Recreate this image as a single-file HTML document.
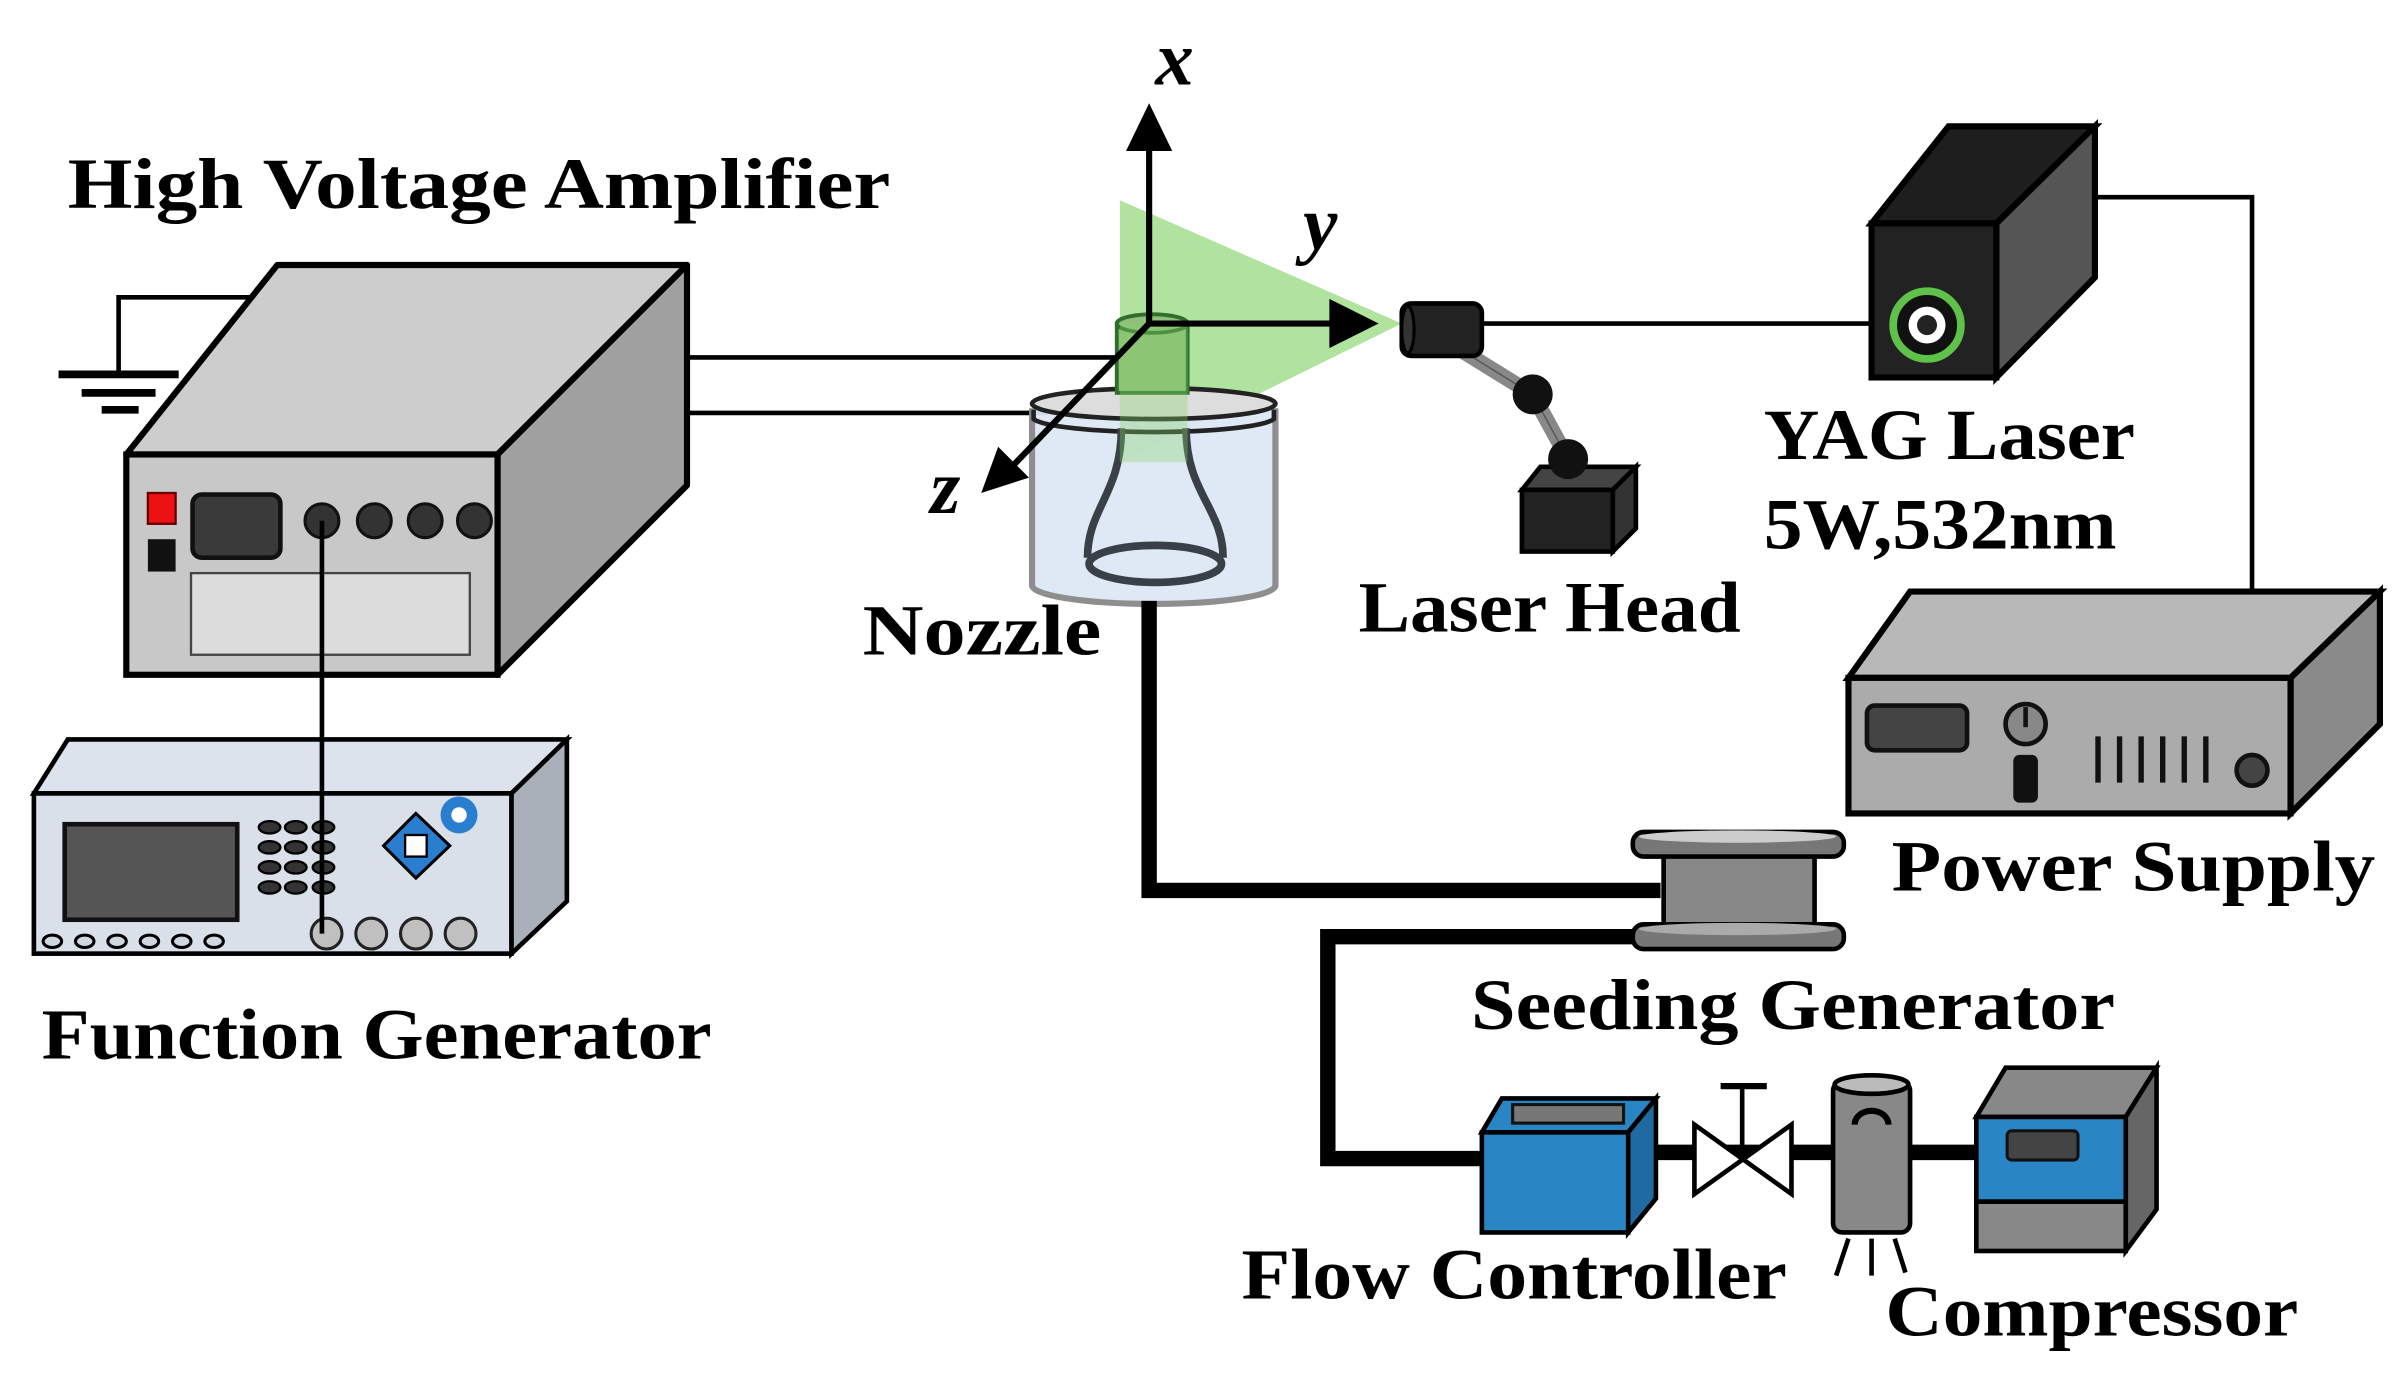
<!DOCTYPE html>
<html><head><meta charset="utf-8"><style>
html,body{margin:0;padding:0;background:#fff;}
svg{display:block;}
text{font-family:"Liberation Serif",serif;font-weight:bold;font-size:47px;fill:#000;}
.it{font-style:italic;font-size:50px;}
</style></head><body>
<svg width="2403" height="1385" viewBox="0 0 1560 899" preserveAspectRatio="none" xmlns="http://www.w3.org/2000/svg">
<rect width="1560" height="899" fill="#fff"/>

<!-- ground -->
<polyline points="182,193 77,193 77,243" fill="none" stroke="#000" stroke-width="3"/>
<line x1="38" y1="243" x2="116" y2="243" stroke="#000" stroke-width="5"/>
<line x1="53" y1="255" x2="101" y2="255" stroke="#000" stroke-width="5"/>
<line x1="66" y1="266" x2="90" y2="266" stroke="#000" stroke-width="5"/>

<!-- wires amp to nozzle -->
<line x1="446" y1="232" x2="730" y2="232" stroke="#000" stroke-width="3"/>
<line x1="446" y1="268" x2="680" y2="268" stroke="#000" stroke-width="3"/>

<!-- amplifier -->
<polygon points="82,295 180,172 446,172 323,295" fill="#cdcdcd" stroke="#000" stroke-width="4" stroke-linejoin="round"/>
<polygon points="323,295 446,172 446,315 323,438" fill="#a0a0a0" stroke="#000" stroke-width="4" stroke-linejoin="round"/>
<rect x="82" y="295" width="241" height="143" fill="#c8c8c8" stroke="#000" stroke-width="4"/>
<rect x="96" y="320" width="18" height="20" fill="#e11" stroke="#600" stroke-width="1.5"/>
<rect x="96" y="350" width="18" height="21" fill="#111"/>
<rect x="125" y="321" width="57" height="41" rx="6" fill="#3a3a3a" stroke="#111" stroke-width="3"/>
<circle cx="209" cy="338" r="11" fill="#333" stroke="#111" stroke-width="2"/>
<circle cx="243" cy="338" r="11" fill="#333" stroke="#111" stroke-width="2"/>
<circle cx="276" cy="338" r="11" fill="#333" stroke="#111" stroke-width="2"/>
<circle cx="308" cy="338" r="11" fill="#333" stroke="#111" stroke-width="2"/>
<rect x="124" y="372" width="181" height="53" fill="#dcdcdc" stroke="#444" stroke-width="1.5"/>

<!-- function generator -->
<polygon points="22,515 44,480 368,480 332,515" fill="#dde3ec" stroke="#000" stroke-width="3"/>
<polygon points="332,515 368,480 368,585 332,619" fill="#a9b0ba" stroke="#000" stroke-width="3"/>
<rect x="22" y="515" width="310" height="104" fill="#d9e0ea" stroke="#000" stroke-width="3"/>
<rect x="42" y="535" width="112" height="62" fill="#555" stroke="#111" stroke-width="3"/>
<g fill="#333" stroke="#000" stroke-width="1.5">
<ellipse cx="175" cy="537" rx="7" ry="4"/><ellipse cx="192" cy="537" rx="7" ry="4"/><ellipse cx="210" cy="537" rx="7" ry="4"/>
<ellipse cx="175" cy="550" rx="7" ry="4"/><ellipse cx="192" cy="550" rx="7" ry="4"/><ellipse cx="210" cy="550" rx="7" ry="4"/>
<ellipse cx="175" cy="563" rx="7" ry="4"/><ellipse cx="192" cy="563" rx="7" ry="4"/><ellipse cx="210" cy="563" rx="7" ry="4"/>
<ellipse cx="175" cy="576" rx="7" ry="4"/><ellipse cx="192" cy="576" rx="7" ry="4"/><ellipse cx="210" cy="576" rx="7" ry="4"/>
</g>
<g fill="#d0d6e0" stroke="#000" stroke-width="2">
<ellipse cx="34" cy="611" rx="6" ry="4"/><ellipse cx="55" cy="611" rx="6" ry="4"/><ellipse cx="76" cy="611" rx="6" ry="4"/>
<ellipse cx="97" cy="611" rx="6" ry="4"/><ellipse cx="118" cy="611" rx="6" ry="4"/><ellipse cx="139" cy="611" rx="6" ry="4"/>
</g>
<g fill="#c0c0c0" stroke="#222" stroke-width="2">
<ellipse cx="212" cy="606" rx="10" ry="10"/><ellipse cx="241" cy="606" rx="10" ry="10"/><ellipse cx="270" cy="606" rx="10" ry="10"/><ellipse cx="299" cy="606" rx="10" ry="10"/>
</g>
<polygon points="270,528 292,549 270,570 249,549" fill="#2a7ed0" stroke="#000" stroke-width="2"/>
<rect x="263" y="542" width="14" height="14" fill="#fff" stroke="#000" stroke-width="1.5"/>
<circle cx="298" cy="529" r="12" fill="#2a7ed0"/><circle cx="298" cy="529" r="5" fill="#fff"/>
<line x1="209" y1="338" x2="209" y2="606" stroke="#000" stroke-width="3"/>

<!-- green sheet -->
<polygon points="727,130 727,300 910,210" fill="#86d46a" opacity="0.65"/>

<!-- nozzle container -->
<path d="M670,265 L670,380 A79,12 0 0 0 828,380 L828,265" fill="#dde8f5" stroke="#888" stroke-width="4" opacity="0.95"/>
<ellipse cx="749" cy="262" rx="79" ry="10" fill="#ddd" stroke="#222" stroke-width="3"/>
<path d="M671,266 L671,272 A79,10 0 0 0 827,272 L827,266" fill="none" stroke="#222" stroke-width="3"/>
<path d="M728,278 C728,320 706,330 706,362 M770,278 C770,320 794,330 794,362" fill="none" stroke="#3a4048" stroke-width="5"/>
<ellipse cx="750" cy="366" rx="43" ry="12" fill="none" stroke="#3a4048" stroke-width="5"/>
<rect x="725" y="210" width="46" height="45" fill="#8fbf7a" stroke="#2e6e2e" stroke-width="2.5"/>
<ellipse cx="748" cy="210" rx="23" ry="6" fill="#8fbf7a" stroke="#2e6e2e" stroke-width="2.5"/>
<polygon points="727,210 771,210 771,300 727,300" fill="#86d46a" opacity="0.35"/>

<!-- axes -->
<line x1="746" y1="210" x2="746" y2="95" stroke="#000" stroke-width="4"/>
<polygon points="731,98 761,98 746,67" fill="#000"/>
<line x1="746" y1="210" x2="868" y2="210" stroke="#000" stroke-width="4"/>
<polygon points="863,194 863,226 895,210" fill="#000"/>
<line x1="746" y1="210" x2="655" y2="305" stroke="#000" stroke-width="4"/>
<polygon points="637,320 648,290 668,310" fill="#000"/>
<text x="750" y="55" class="it">x</text>
<text x="846" y="162" class="it">y</text>
<text x="604" y="333" class="it">z</text>

<!-- nozzle tubes -->
<polyline points="746,390 746,578 1078,578" fill="none" stroke="#000" stroke-width="10"/>
<polyline points="1070,608 862,608 862,752 965,752" fill="none" stroke="#000" stroke-width="10"/>

<!-- laser head -->
<line x1="960" y1="210" x2="1215" y2="210" stroke="#000" stroke-width="3"/>
<polyline points="940,222 995,256 1018,298" fill="none" stroke="#888" stroke-width="10"/>
<polyline points="940,222 995,256 1018,298" fill="none" stroke="#111" stroke-width="1" opacity="0.4"/>
<rect x="910" y="197" width="52" height="34" rx="6" fill="#222" stroke="#000" stroke-width="3"/>
<ellipse cx="914" cy="214" rx="4" ry="15" fill="#333" stroke="#000" stroke-width="2"/>
<circle cx="995" cy="256" r="13" fill="#111"/>
<polygon points="988,318 1000,303 1062,303 1047,318" fill="#444" stroke="#000" stroke-width="3"/>
<polygon points="1047,318 1062,303 1062,343 1047,358" fill="#333" stroke="#000" stroke-width="3"/>
<rect x="988" y="318" width="59" height="40" fill="#222" stroke="#000" stroke-width="3"/>
<circle cx="1018" cy="298" r="13" fill="#111"/>

<!-- YAG laser -->
<polyline points="1360,128 1462,128 1462,500" fill="none" stroke="#000" stroke-width="3"/>
<polygon points="1215,145 1265,82 1360,82 1296,145" fill="#1e1e1e" stroke="#000" stroke-width="4"/>
<polygon points="1296,145 1360,82 1360,180 1296,245" fill="#555" stroke="#000" stroke-width="4"/>
<rect x="1215" y="145" width="81" height="100" fill="#222" stroke="#000" stroke-width="4"/>
<circle cx="1251" cy="211" r="22" fill="#111" stroke="#5ec24a" stroke-width="5"/>
<circle cx="1251" cy="211" r="12" fill="#fff"/>
<circle cx="1251" cy="211" r="6.5" fill="#222"/>

<!-- power supply -->
<polygon points="1200,440 1240,384 1545,384 1487,440" fill="#b8b8b8" stroke="#000" stroke-width="4"/>
<polygon points="1487,440 1545,384 1545,470 1487,528" fill="#8a8a8a" stroke="#000" stroke-width="4"/>
<rect x="1200" y="440" width="287" height="88" fill="#ababab" stroke="#000" stroke-width="4"/>
<rect x="1212" y="458" width="65" height="29" rx="5" fill="#444" stroke="#111" stroke-width="3"/>
<circle cx="1315" cy="470" r="13" fill="#888" stroke="#111" stroke-width="3"/>
<line x1="1315" y1="459" x2="1315" y2="472" stroke="#111" stroke-width="3"/>
<rect x="1307" y="490" width="16" height="31" rx="4" fill="#111"/>
<g stroke="#111" stroke-width="3.5">
<line x1="1362" y1="478" x2="1362" y2="508"/><line x1="1376" y1="478" x2="1376" y2="508"/><line x1="1390" y1="478" x2="1390" y2="508"/>
<line x1="1404" y1="478" x2="1404" y2="508"/><line x1="1418" y1="478" x2="1418" y2="508"/><line x1="1432" y1="478" x2="1432" y2="508"/>
</g>
<circle cx="1462" cy="500" r="10" fill="#444" stroke="#111" stroke-width="3"/>

<!-- seeding generator -->
<rect x="1080" y="552" width="98" height="52" fill="#888" stroke="#000" stroke-width="3"/>
<rect x="1060" y="540" width="137" height="16" rx="7" fill="#777" stroke="#000" stroke-width="3"/>
<ellipse cx="1128" cy="543" rx="64" ry="4" fill="#ccc"/>
<rect x="1060" y="600" width="137" height="16" rx="7" fill="#777" stroke="#000" stroke-width="3"/>
<ellipse cx="1128" cy="603" rx="64" ry="4" fill="#aaa"/>

<!-- flow line -->
<line x1="1070" y1="748" x2="1290" y2="748" stroke="#000" stroke-width="10"/>

<!-- flow controller -->
<polygon points="962,735 975,713 1075,713 1057,735" fill="#2a85c4" stroke="#000" stroke-width="3"/>
<rect x="982" y="717" width="72" height="12" fill="#777" stroke="#111" stroke-width="2"/>
<polygon points="1057,735 1075,713 1075,778 1057,800" fill="#1f6aa0" stroke="#000" stroke-width="3"/>
<rect x="962" y="735" width="95" height="65" fill="#2a85c4" stroke="#000" stroke-width="3"/>

<!-- valve -->
<polygon points="1100,730 1100,775 1163,730 1163,775" fill="#fff" stroke="#000" stroke-width="3"/>
<line x1="1131" y1="752" x2="1131" y2="705" stroke="#000" stroke-width="3"/>
<line x1="1117" y1="705" x2="1147" y2="705" stroke="#000" stroke-width="4"/>

<!-- tank -->
<rect x="1190" y="702" width="50" height="98" rx="6" fill="#888" stroke="#000" stroke-width="3"/>
<ellipse cx="1215" cy="704" rx="24" ry="6" fill="#bbb" stroke="#000" stroke-width="3"/>
<path d="M1204,730 A11,9 0 0 1 1226,730" fill="none" stroke="#000" stroke-width="4"/>
<line x1="1200" y1="804" x2="1192" y2="828" stroke="#000" stroke-width="3"/>
<line x1="1215" y1="804" x2="1215" y2="828" stroke="#000" stroke-width="3"/>
<line x1="1230" y1="804" x2="1237" y2="826" stroke="#000" stroke-width="3"/>

<!-- compressor -->
<polygon points="1283,725 1302,693 1400,693 1380,725" fill="#888" stroke="#000" stroke-width="3"/>
<polygon points="1380,725 1400,693 1400,785 1380,812" fill="#666" stroke="#000" stroke-width="3"/>
<rect x="1283" y="725" width="97" height="55" fill="#2a85c4" stroke="#000" stroke-width="3"/>
<rect x="1283" y="780" width="97" height="32" fill="#888" stroke="#000" stroke-width="3"/>
<rect x="1303" y="734" width="46" height="19" rx="3" fill="#444" stroke="#111" stroke-width="2"/>

<!-- labels -->
<text x="44" y="135" textLength="534" lengthAdjust="spacingAndGlyphs">High Voltage Amplifier</text>
<text x="27" y="687" textLength="435" lengthAdjust="spacingAndGlyphs">Function Generator</text>
<text x="560" y="425" textLength="155" lengthAdjust="spacingAndGlyphs">Nozzle</text>
<text x="882" y="410" textLength="248" lengthAdjust="spacingAndGlyphs">Laser Head</text>
<text x="1145" y="298" textLength="241" lengthAdjust="spacingAndGlyphs">YAG Laser</text>
<text x="1145" y="356" textLength="229" lengthAdjust="spacingAndGlyphs">5W,532nm</text>
<text x="1228" y="578" textLength="314" lengthAdjust="spacingAndGlyphs">Power Supply</text>
<text x="955" y="668" textLength="418" lengthAdjust="spacingAndGlyphs">Seeding Generator</text>
<text x="806" y="843" textLength="354" lengthAdjust="spacingAndGlyphs">Flow Controller</text>
<text x="1224" y="867" textLength="268" lengthAdjust="spacingAndGlyphs">Compressor</text>
</svg>
</body></html>
